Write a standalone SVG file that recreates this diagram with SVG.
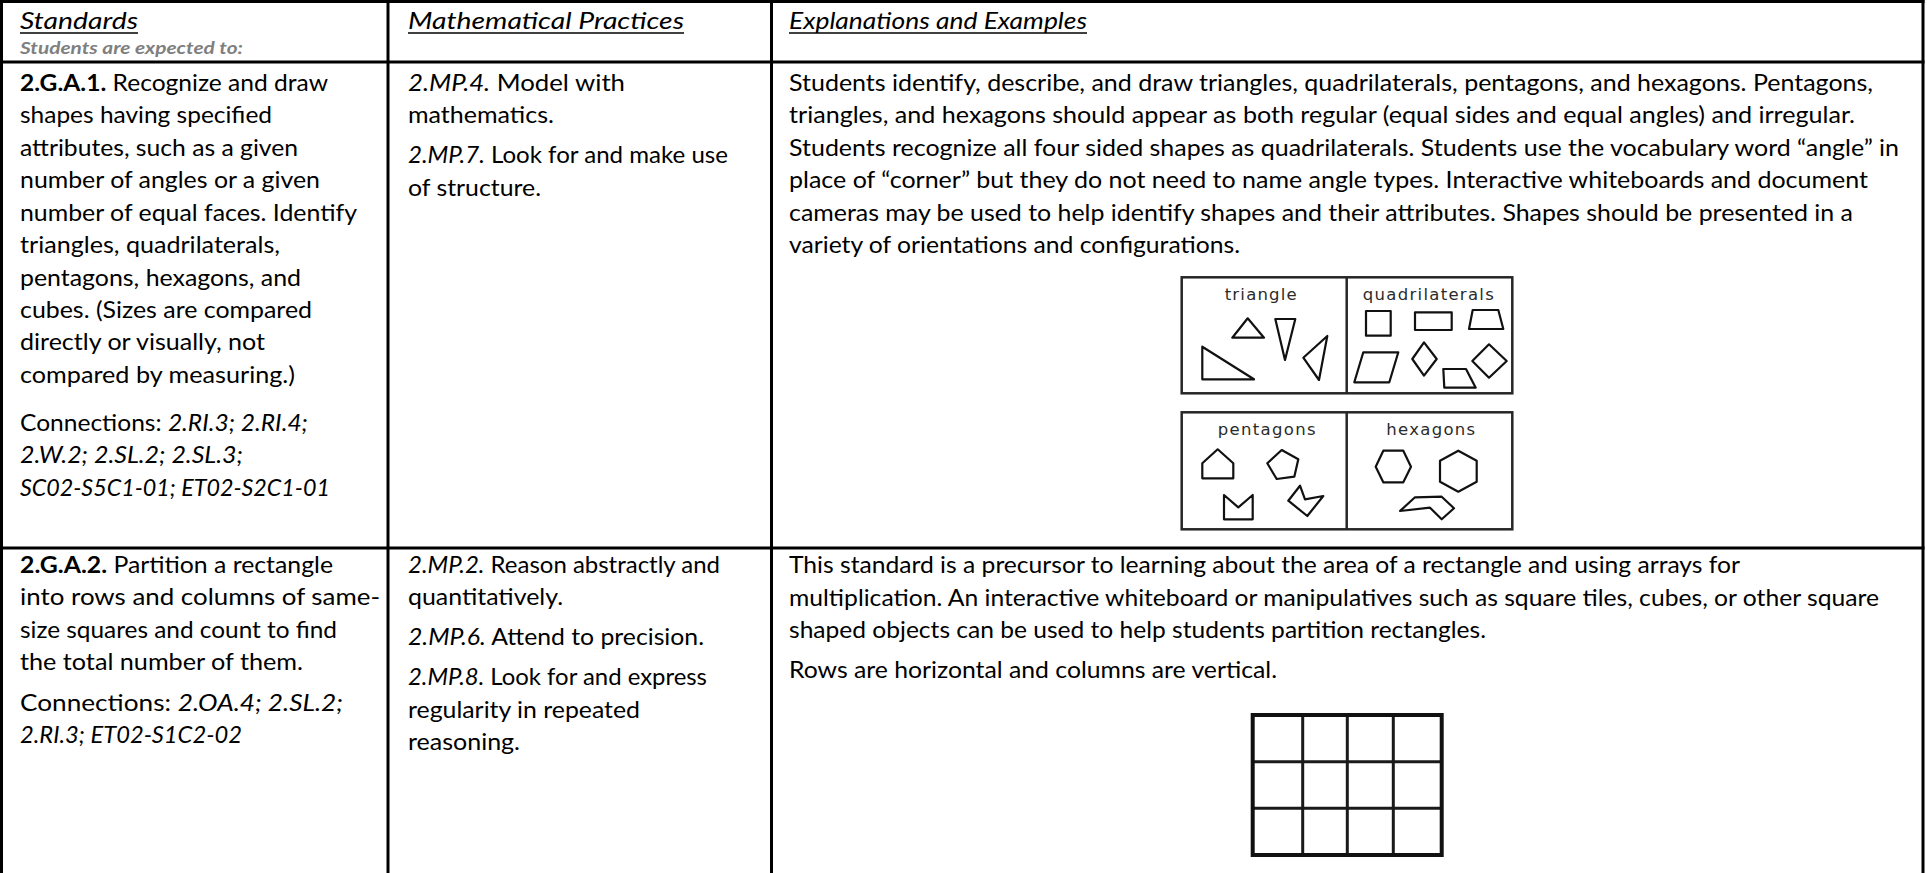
<svg xmlns="http://www.w3.org/2000/svg" width="1927" height="873" viewBox="0 0 1927 873">
<style>
.t{font-family:Lato,'Liberation Sans',sans-serif;font-size:23px;fill:#000}
.h{font-family:Lato,'Liberation Sans',sans-serif;font-size:23px;font-style:italic;fill:#000}
.sub{font-family:Lato,'Liberation Sans',sans-serif;font-size:17px;font-style:italic;font-weight:bold;fill:#7f7f7f}
.i{font-style:italic}
.b{font-weight:bold}
.ln{stroke:#000;stroke-width:3;fill:none}
.ul{stroke:#000;stroke-width:1.6}
.fr{fill:#fff;stroke:#262626;stroke-width:2.5}
.sh{fill:#fff;stroke:#111;stroke-width:2.2;stroke-linejoin:round}
.lab{font-family:'DejaVu Sans',sans-serif;font-size:16.5px;fill:#2b2b2b;text-anchor:middle}
.gr{stroke:#1a1a1a;stroke-width:3;fill:none}
</style>
<rect width="1927" height="873" fill="#fff"/>

<g id="table-lines">
<line class="ln" x1="0" y1="1.5" x2="1924.5" y2="1.5"/>
<line class="ln" x1="1.5" y1="0" x2="1.5" y2="873"/>
<line class="ln" x1="1923" y1="0" x2="1923" y2="873"/>
<line class="ln" x1="388" y1="0" x2="388" y2="873"/>
<line class="ln" x1="771.5" y1="0" x2="771.5" y2="873"/>
<line class="ln" x1="0" y1="62" x2="1924.5" y2="62"/>
<line class="ln" x1="0" y1="548" x2="1924.5" y2="548"/>
</g>

<g id="header-standards">
<text class="h" x="20" y="29" textLength="118" lengthAdjust="spacingAndGlyphs">Standards</text>
<line class="ul" x1="20" y1="33" x2="138" y2="33"/>
<text class="sub" x="20" y="54" textLength="223" lengthAdjust="spacingAndGlyphs">Students are expected to:</text>
</g>
<g id="header-practices">
<text class="h" x="408" y="29" textLength="276" lengthAdjust="spacingAndGlyphs">Mathematical Practices</text>
<line class="ul" x1="408" y1="33" x2="684" y2="33"/>
</g>
<g id="header-explanations">
<text class="h" x="789" y="29" textLength="298" lengthAdjust="spacingAndGlyphs">Explanations and Examples</text>
<line class="ul" x1="789" y1="33" x2="1087" y2="33"/>
</g>

<g id="standard-2GA1">
<text class="t" x="20" y="90.7" textLength="308" lengthAdjust="spacingAndGlyphs"><tspan class="b">2.G.A.1.</tspan> Recognize and draw</text>
<text class="t" x="20" y="123.2" textLength="252" lengthAdjust="spacingAndGlyphs">shapes having specified</text>
<text class="t" x="20" y="155.7" textLength="278" lengthAdjust="spacingAndGlyphs">attributes, such as a given</text>
<text class="t" x="20" y="188.2" textLength="300" lengthAdjust="spacingAndGlyphs">number of angles or a given</text>
<text class="t" x="20" y="220.7" textLength="337" lengthAdjust="spacingAndGlyphs">number of equal faces. Identify</text>
<text class="t" x="20" y="253.2" textLength="260" lengthAdjust="spacingAndGlyphs">triangles, quadrilaterals,</text>
<text class="t" x="20" y="285.7" textLength="281" lengthAdjust="spacingAndGlyphs">pentagons, hexagons, and</text>
<text class="t" x="20" y="318" textLength="292" lengthAdjust="spacingAndGlyphs">cubes. (Sizes are compared</text>
<text class="t" x="20" y="350.3" textLength="245" lengthAdjust="spacingAndGlyphs">directly or visually, not</text>
<text class="t" x="20" y="382.5" textLength="275" lengthAdjust="spacingAndGlyphs">compared by measuring.)</text>
<text class="t" x="20" y="430.7" textLength="288" lengthAdjust="spacingAndGlyphs">Connections: <tspan class="i">2.RI.3; 2.RI.4;</tspan></text>
<text class="t i" x="20" y="463.2" textLength="223" lengthAdjust="spacingAndGlyphs">2.W.2; 2.SL.2; 2.SL.3;</text>
<text class="t i" x="20" y="495.7" textLength="310" lengthAdjust="spacingAndGlyphs">SC02-S5C1-01; ET02-S2C1-01</text>
</g>

<g id="practices-2GA1">
<text class="t" x="408" y="90.7" textLength="217" lengthAdjust="spacingAndGlyphs"><tspan class="i">2.MP.4.</tspan> Model with</text>
<text class="t" x="408" y="123.2" textLength="146" lengthAdjust="spacingAndGlyphs">mathematics.</text>
<text class="t" x="408" y="163" textLength="320" lengthAdjust="spacingAndGlyphs"><tspan class="i">2.MP.7.</tspan> Look for and make use</text>
<text class="t" x="408" y="195.5" textLength="133" lengthAdjust="spacingAndGlyphs">of structure.</text>
</g>

<g id="explanation-2GA1">
<text class="t" x="789" y="90.7" textLength="1084" lengthAdjust="spacingAndGlyphs">Students identify, describe, and draw triangles, quadrilaterals, pentagons, and hexagons. Pentagons,</text>
<text class="t" x="789" y="123.2" textLength="1066" lengthAdjust="spacingAndGlyphs">triangles, and hexagons should appear as both regular (equal sides and equal angles) and irregular.</text>
<text class="t" x="789" y="155.7" textLength="1110" lengthAdjust="spacingAndGlyphs">Students recognize all four sided shapes as quadrilaterals. Students use the vocabulary word “angle” in</text>
<text class="t" x="789" y="188.2" textLength="1079" lengthAdjust="spacingAndGlyphs">place of “corner” but they do not need to name angle types. Interactive whiteboards and document</text>
<text class="t" x="789" y="220.7" textLength="1064" lengthAdjust="spacingAndGlyphs">cameras may be used to help identify shapes and their attributes. Shapes should be presented in a</text>
<text class="t" x="789" y="253.2" textLength="451" lengthAdjust="spacingAndGlyphs">variety of orientations and configurations.</text>
</g>

<g id="shapes-figure">
<rect class="fr" x="1181.7" y="277.3" width="330.6" height="116"/>
<line class="fr" x1="1346.7" y1="277.3" x2="1346.7" y2="393.3"/>
<rect class="fr" x="1181.7" y="412.3" width="330.6" height="117"/>
<line class="fr" x1="1346.7" y1="412.3" x2="1346.7" y2="529.3"/>
<text class="lab" x="1260.7" y="299.5" textLength="72" lengthAdjust="spacing">triangle</text>
<text class="lab" x="1428.3" y="299.5" textLength="131" lengthAdjust="spacing">quadrilaterals</text>
<text class="lab" x="1266.7" y="435" textLength="98" lengthAdjust="spacing">pentagons</text>
<text class="lab" x="1430.7" y="435" textLength="89" lengthAdjust="spacing">hexagons</text>
<polygon class="sh" points="1247.7,318.3 1264,337.7 1232.3,337.7"/>
<polygon class="sh" points="1275.3,319 1295.3,319 1285,360"/>
<polygon class="sh" points="1202.3,346.7 1254,379.3 1202.3,379.3"/>
<polygon class="sh" points="1327.3,336 1319,380 1303.3,357.7"/>
<rect class="sh" x="1366" y="311" width="24.7" height="24.7"/>
<rect class="sh" x="1415" y="312.3" width="36.7" height="17.7"/>
<polygon class="sh" points="1472.7,310 1498.3,310 1503.3,329 1469,329"/>
<polygon class="sh" points="1363.3,352.3 1398.3,352.3 1389.3,382.3 1354.3,382.3"/>
<polygon class="sh" points="1424,342.3 1436.7,359 1424,375.7 1412.3,359"/>
<polygon class="sh" points="1443.3,369 1466,369 1475.7,387.7 1444.3,387.7"/>
<polygon class="sh" points="1489,344.3 1506.7,361 1489,377.7 1472.3,361"/>
<polygon class="sh" points="1217.7,449.3 1233.3,463.3 1233.3,478.3 1202.3,478.3 1202.3,463.3"/>
<polygon class="sh" points="1281.7,450 1298.3,459.3 1294.3,476.7 1276.7,479 1267.3,463.3"/>
<polygon class="sh" points="1224,495 1238.3,507.3 1252.7,495 1252.7,519.3 1224,519.3"/>
<polygon class="sh" points="1288.3,500.7 1300,485.7 1305,499.3 1323.3,496 1307.3,516"/>
<polygon class="sh" points="1375.7,466.7 1383.3,450.7 1403.3,450.7 1411,466.7 1403.3,482.3 1383.3,482.3"/>
<polygon class="sh" points="1458.3,450.7 1476.7,460.7 1476.7,481.7 1458.3,491.7 1440,481.7 1440,460.7"/>
<polygon class="sh" points="1400,511 1415,497.3 1441.7,496.7 1454,508.3 1441.7,519.3 1430,507.7"/>
</g>

<g id="standard-2GA2">
<text class="t" x="20" y="572.7" textLength="313" lengthAdjust="spacingAndGlyphs"><tspan class="b">2.G.A.2.</tspan> Partition a rectangle</text>
<text class="t" x="20" y="605.2" textLength="360" lengthAdjust="spacingAndGlyphs">into rows and columns of same-</text>
<text class="t" x="20" y="637.7" textLength="317" lengthAdjust="spacingAndGlyphs">size squares and count to find</text>
<text class="t" x="20" y="670.2" textLength="283" lengthAdjust="spacingAndGlyphs">the total number of them.</text>
<text class="t" x="20" y="710.7" textLength="323" lengthAdjust="spacingAndGlyphs">Connections: <tspan class="i">2.OA.4; 2.SL.2;</tspan></text>
<text class="t i" x="20" y="743.2" textLength="222" lengthAdjust="spacingAndGlyphs">2.RI.3; ET02-S1C2-02</text>
</g>

<g id="practices-2GA2">
<text class="t" x="408" y="572.7" textLength="312" lengthAdjust="spacingAndGlyphs"><tspan class="i">2.MP.2.</tspan> Reason abstractly and</text>
<text class="t" x="408" y="605.2" textLength="155" lengthAdjust="spacingAndGlyphs">quantitatively.</text>
<text class="t" x="408" y="645.2" textLength="296" lengthAdjust="spacingAndGlyphs"><tspan class="i">2.MP.6.</tspan> Attend to precision.</text>
<text class="t" x="408" y="685.2" textLength="299" lengthAdjust="spacingAndGlyphs"><tspan class="i">2.MP.8.</tspan> Look for and express</text>
<text class="t" x="408" y="717.7" textLength="232" lengthAdjust="spacingAndGlyphs">regularity in repeated</text>
<text class="t" x="408" y="750.2" textLength="112" lengthAdjust="spacingAndGlyphs">reasoning.</text>
</g>

<g id="explanation-2GA2">
<text class="t" x="789" y="573" textLength="951" lengthAdjust="spacingAndGlyphs">This standard is a precursor to learning about the area of a rectangle and using arrays for</text>
<text class="t" x="789" y="605.5" textLength="1090" lengthAdjust="spacingAndGlyphs">multiplication. An interactive whiteboard or manipulatives such as square tiles, cubes, or other square</text>
<text class="t" x="789" y="638" textLength="697" lengthAdjust="spacingAndGlyphs">shaped objects can be used to help students partition rectangles.</text>
<text class="t" x="789" y="678.3" textLength="488" lengthAdjust="spacingAndGlyphs">Rows are horizontal and columns are vertical.</text>
</g>

<g id="array-figure">
<line class="gr" x1="1302.7" y1="715" x2="1302.7" y2="855"/>
<line class="gr" x1="1347.3" y1="715" x2="1347.3" y2="855"/>
<line class="gr" x1="1393.3" y1="715" x2="1393.3" y2="855"/>
<line class="gr" x1="1252.7" y1="761.7" x2="1441.7" y2="761.7"/>
<line class="gr" x1="1252.7" y1="808.3" x2="1441.7" y2="808.3"/>
<rect x="1252.7" y="715" width="189" height="140" fill="none" stroke="#111" stroke-width="4"/>
</g>
</svg>
